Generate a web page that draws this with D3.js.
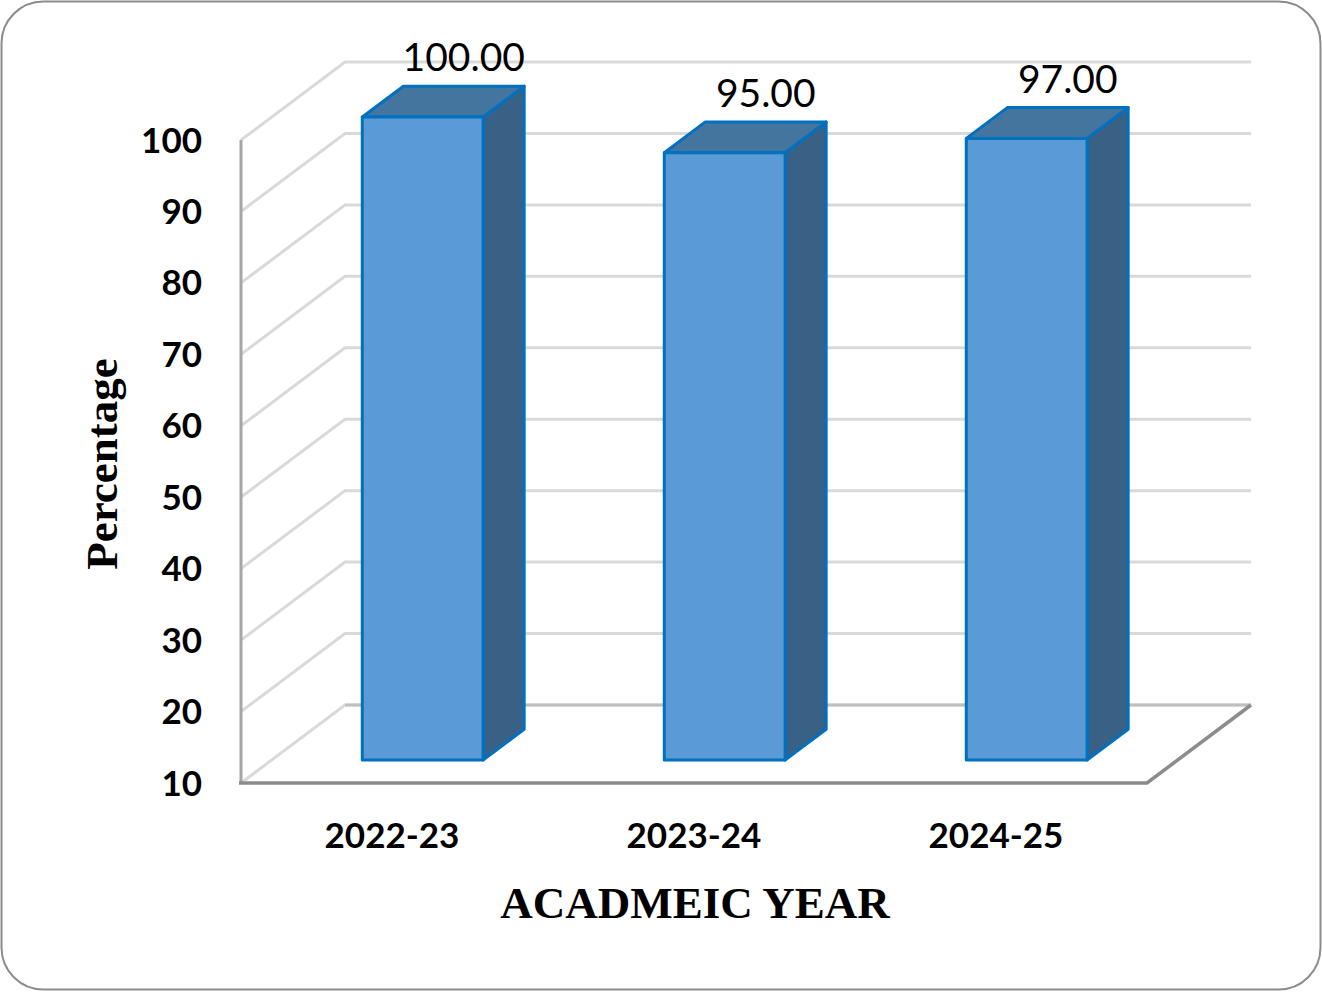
<!DOCTYPE html>
<html>
<head>
<meta charset="utf-8">
<script src="https://cdn.jsdelivr.net/npm/d3@7"></script>
<style>
    html, body { margin: 0; padding: 0; background: #ffffff; }
    svg { display: block; }
</style>
</head>
<body>
<svg id="chart"></svg>
<script>
/* global d3 */
var years = ['2022-23', '2023-24', '2024-25'];
var percentages = [100.00, 95.00, 97.00];
var yTicks = [10, 20, 30, 40, 50, 60, 70, 80, 90, 100];

(function(d3) {
    'use strict';

    var width = 1322;
    var height = 992;

    // front plane of the box and the depth vector to its back wall
    var left = 241, right = 1147, floorY = 783, topY = 140;
    var depthX = 104, depthY = -78;
    // bars sit between these fractions of the depth
    var barFront = 0.295, barBack = 0.69;

    var svg = d3.select('#chart')
        .attr('width', width)
        .attr('height', height);

    svg.append('rect')
        .attr('x', 1.5).attr('y', 1.5)
        .attr('width', width - 3).attr('height', height - 4)
        .attr('rx', 42).attr('ry', 42)
        .attr('fill', '#ffffff')
        .attr('stroke', '#8c8c8c')
        .attr('stroke-width', 2);

    var x = d3.scaleBand()
        .domain(years)
        .range([left, right])
        .paddingInner(0.6)
        .paddingOuter(0.3);

    var y = d3.scaleLinear()
        .domain([10, 100])
        .range([floorY, topY]);

    // gridlines: diagonal on side wall + horizontal on back wall
    var grid = svg.append('g').attr('class', 'grid');

    grid.selectAll('path.grid')
        .data(yTicks)
        .enter()
        .append('path')
        .attr('class', 'grid')
        .attr('fill', 'none')
        .attr('stroke', '#d9d9d9')
        .attr('stroke-width', 3)
        .attr('d', function(d) {
            var p = d3.path();
            p.moveTo(left, y(d));
            p.lineTo(left + depthX, y(d) + depthY);
            p.lineTo(right + depthX, y(d) + depthY);
            return p.toString();
        });

    // floor back edge slightly darker
    grid.append('line')
        .attr('x1', left + depthX).attr('y1', y(10) + depthY)
        .attr('x2', right + depthX).attr('y2', y(10) + depthY)
        .attr('stroke', '#bfbfbf')
        .attr('stroke-width', 3);

    // side wall vertical axis
    svg.append('line')
        .attr('x1', left).attr('y1', y(100))
        .attr('x2', left).attr('y2', y(10))
        .attr('stroke', '#a6a6a6')
        .attr('stroke-width', 3);

    // floor front edge + right edge
    svg.append('path')
        .attr('fill', 'none')
        .attr('stroke', '#8c8c8c')
        .attr('stroke-width', 3.5)
        .attr('d', function() {
            var p = d3.path();
            p.moveTo(left - 2, floorY);
            p.lineTo(right, floorY);
            p.lineTo(right + depthX, floorY + depthY);
            return p.toString();
        });

    // bars
    var data = years.map(function(yr, i) {
        return {year: yr, value: percentages[i]};
    });

    var fx = depthX * barFront, fy = depthY * barFront;
    var bx = depthX * (barBack - barFront), by = depthY * (barBack - barFront);

    var bars = svg.selectAll('g.bar')
        .data(data)
        .enter()
        .append('g')
        .attr('class', 'bar')
        .attr('stroke', '#0070c0')
        .attr('stroke-width', 3)
        .attr('stroke-linejoin', 'round');

    function poly(pts) {
        return 'M' + pts.map(function(p) { return p.join(','); }).join('L') + 'Z';
    }

    // side face
    bars.append('path')
        .attr('fill', '#386185')
        .attr('d', function(d) {
            var x1 = x(d.year) + fx + x.bandwidth();
            var yt = y(d.value) + fy, yb = y(10) + fy;
            return poly([[x1, yt], [x1 + bx, yt + by], [x1 + bx, yb + by], [x1, yb]]);
        });

    // top face
    bars.append('path')
        .attr('fill', '#44759f')
        .attr('d', function(d) {
            var x0 = x(d.year) + fx, x1 = x0 + x.bandwidth();
            var yt = y(d.value) + fy;
            return poly([[x0, yt], [x0 + bx, yt + by], [x1 + bx, yt + by], [x1, yt]]);
        });

    // front face
    bars.append('rect')
        .attr('fill', '#5b9bd5')
        .attr('x', function(d) { return x(d.year) + fx; })
        .attr('y', function(d) { return y(d.value) + fy; })
        .attr('width', x.bandwidth())
        .attr('height', function(d) { return y(10) - y(d.value); });

    // data labels above the back top edge
    svg.selectAll('text.value')
        .data(data)
        .enter()
        .append('text')
        .attr('class', 'value')
        .attr('x', function(d) { return x(d.year) + fx + bx + x.bandwidth() / 2; })
        .attr('y', function(d) { return y(d.value) + fy + by - 15; })
        .attr('text-anchor', 'middle')
        .style('font-family', 'Lato, "Open Sans", sans-serif')
        .style('font-size', '39px')
        .style('fill', '#000000')
        .text(function(d) { return d3.format('.2f')(d.value); });

    // y tick labels on front plane
    svg.selectAll('text.ytick')
        .data(yTicks)
        .enter()
        .append('text')
        .attr('class', 'ytick')
        .attr('x', 202)
        .attr('y', function(d) { return y(d); })
        .attr('dy', '0.36em')
        .attr('text-anchor', 'end')
        .style('font-family', 'Lato, sans-serif')
        .style('font-weight', 'bold')
        .style('font-size', '35px')
        .text(function(d) { return d; });

    // category labels
    svg.selectAll('text.xtick')
        .data(years)
        .enter()
        .append('text')
        .attr('class', 'xtick')
        .attr('x', function(d) { return x(d) + x.bandwidth() / 2; })
        .attr('y', 835)
        .attr('dy', '0.36em')
        .attr('text-anchor', 'middle')
        .style('font-family', 'Lato, sans-serif')
        .style('font-weight', 'bold')
        .style('font-size', '35px')
        .text(function(d) { return d; });

    // axis titles
    svg.append('text')
        .attr('x', 695)
        .attr('y', 918)
        .attr('text-anchor', 'middle')
        .style('font-family', '"Liberation Serif", "Times New Roman", serif')
        .style('font-weight', 'bold')
        .style('font-size', '45px')
        .text('ACADMEIC YEAR');

    svg.append('text')
        .attr('transform', 'translate(117,464) rotate(-90)')
        .attr('text-anchor', 'middle')
        .style('font-family', '"Liberation Serif", "Times New Roman", serif')
        .style('font-weight', 'bold')
        .style('font-size', '45px')
        .text('Percentage');

}(d3));
</script>
</body>
</html>
